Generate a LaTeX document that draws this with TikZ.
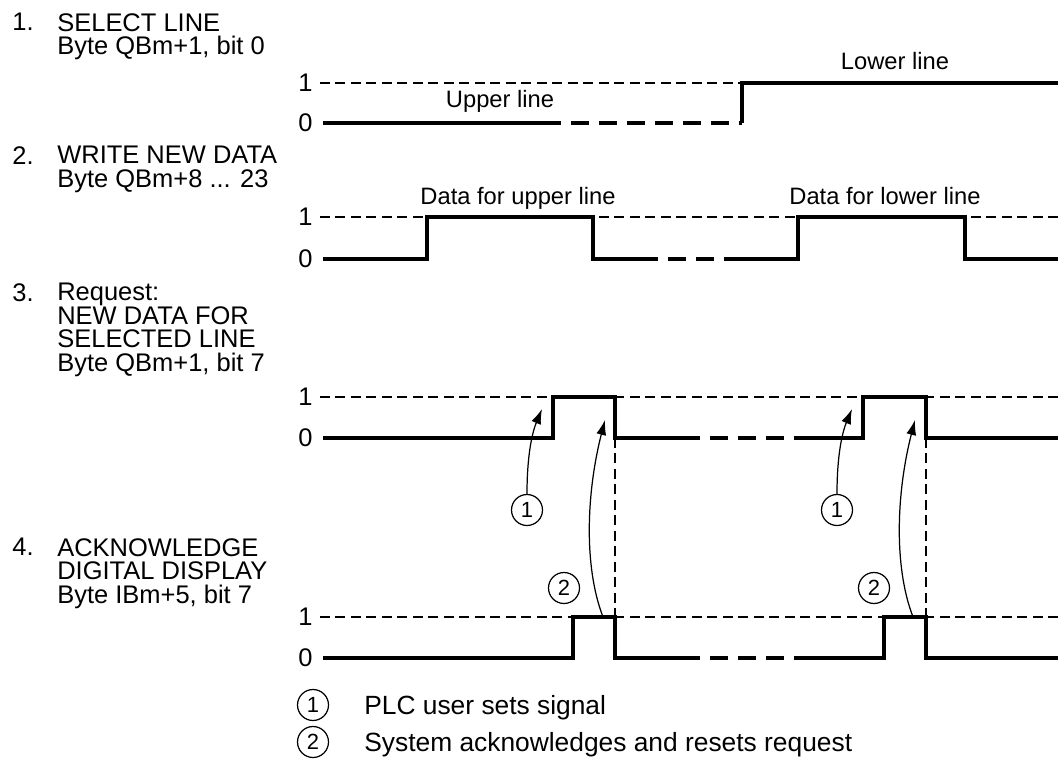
\documentclass[tikz,border=0pt]{standalone}
\usepackage{fontspec}
\setmainfont{Liberation Sans}
\usepackage{tikz}
\usetikzlibrary{arrows.meta, calc, positioning}
\tikzset{
  sig/.style={line width=2.3pt, line join=miter},
  gap/.style={line width=2.3pt, dash pattern=on 0.36cm off 0.2cm},
  lvl/.style={line width=0.7pt, dash pattern=on 0.2cm off 0.11cm},
  callout/.style={line width=0.7pt, -{Latex[length=3mm,width=2mm]}},
  marker/.style={draw, circle, line width=0.7pt, minimum size=0.62cm, inner sep=0pt, font=\fontsize{12.5}{13}\selectfont},
  lbl/.style={anchor=north west, align=left, inner sep=0pt},
  lev/.style={anchor=east, inner sep=0pt},
  sigtag/.style={anchor=base, inner sep=0pt, font=\fontsize{13.5}{14}\selectfont},
  keytext/.style={anchor=base west, inner sep=0pt, font=\fontsize{15}{16}\selectfont}
}

\begin{document}
\begin{tikzpicture}[x=0.02cm, y=-0.02cm, font=\fontsize{14.5}{13.4}\selectfont]
  \useasboundingbox (0,0) rectangle (1058,760);

  % row titles
  \node[lbl] (num1) at (12,13) {1.};
  \node[lbl] (sel) at (57,13) {SELECT LINE\\Byte QBm+1, bit 0};
  \node[lbl] (num2) at (12,146) {2.};
  \node[lbl] (wrt) at (57,146) {WRITE NEW DATA\\Byte QBm+8 ... 23};
  \node[lbl] (num3) at (12,283) {3.};
  \node[lbl] (req) at (57,283) {Request:\\NEW DATA FOR\\SELECTED LINE\\Byte QBm+1, bit 7};
  \node[lbl] (num4) at (12,538) {4.};
  \node[lbl] (ack) at (57,538) {ACKNOWLEDGE\\DIGITAL DISPLAY\\Byte IBm+5, bit 7};

  % levels 1 and 0
  \foreach \r/\hi/\lo in {1/83/123, 2/217/259, 3/397/438, 4/617/658} {
    \node[lev] (one\r) at (313,\hi) {1};
    \node[lev] (zero\r) at (313,\lo) {0};
    \draw[lvl] ([xshift=0.14cm]one\r.east) -- (1058,\hi);
  }

  % select line
  \draw[sig] (323,123) -- (543,123);
  \draw[gap] (543,123) -- (742,123);
  \draw[sig] (742,123) -- (742,83) -- (1058,83);
  \node[sigtag] (upper) at (500,108) {Upper line};
  \node[sigtag] (lower) at (895,70) {Lower line};

  % write new data
  \draw[sig] (323,259) -- (427,259) -- (427,217) -- (593,217) -- (593,259) -- (640,259);
  \draw[gap] (640,259) -- (738,259);
  \draw[sig] (738,259) -- (798,259) -- (798,217) -- (965,217) -- (965,259) -- (1058,259);
  \node[sigtag] (dup) at (518,205) {Data for upper line};
  \node[sigtag] (dlow) at (885,205) {Data for lower line};

  % request
  \draw[sig] (323,438) -- (553,438) -- (553,397) -- (615,397) -- (615,438) -- (682,438);
  \draw[gap] (682,438) -- (795,438);
  \draw[sig] (795,438) -- (863,438) -- (863,397) -- (926,397) -- (926,438) -- (1058,438);

  % acknowledge
  \draw[sig] (323,658) -- (573,658) -- (573,617) -- (615,617) -- (615,658) -- (682,658);
  \draw[gap] (682,658) -- (810,658);
  \draw[sig] (810,658) -- (884,658) -- (884,617) -- (926,617) -- (926,658) -- (1058,658);

  \draw[lvl] (615,438) -- (615,617);
  \draw[lvl] (926,438) -- (926,617);

  % callouts
  \foreach \s/\d in {a/0, b/310} {
    \node[marker] (set\s) at ({527+\d},510) {1};
    \node[marker] (rst\s) at ({564+\d},588) {2};
    \coordinate (tipset\s) at ({542+\d},409);
    \coordinate (tailrst\s) at ({603+\d},617);
    \coordinate (tiprst\s) at ({605+\d},420);
    \draw[callout] (set\s.north) .. controls +(0,-38) and +(-10,24) .. (tipset\s);
    \draw[callout] (tailrst\s) .. controls +(-20,-52) and +(-18,70) .. (tiprst\s);
  }

  % legend
  \node[marker] (key1) at (313,705) {1};
  \node[keytext] (key1txt) at (364,714) {PLC user sets signal};
  \node[marker] (key2) at (313,742) {2};
  \node[keytext] (key2txt) at (364,751) {System acknowledges and resets request};
\end{tikzpicture}
\end{document}
